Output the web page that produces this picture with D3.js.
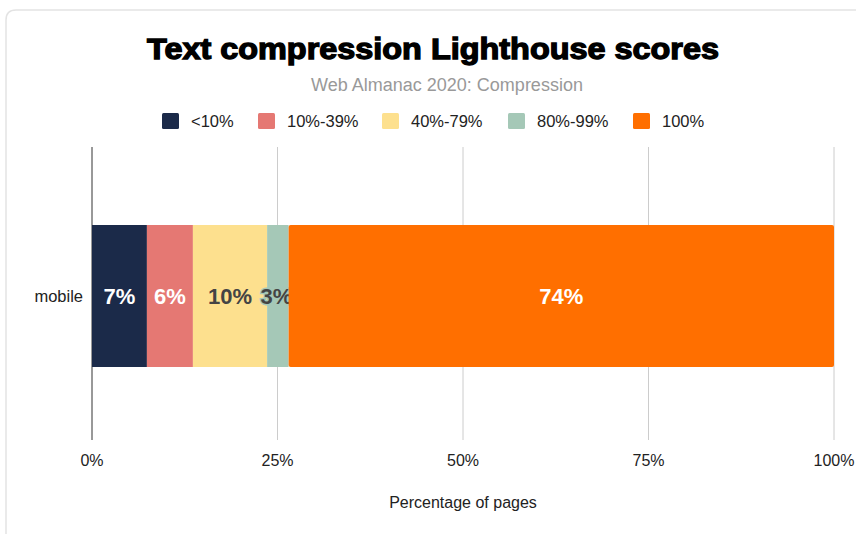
<!DOCTYPE html>
<html><head><meta charset="utf-8">
<script src="https://cdn.jsdelivr.net/npm/d3@7"></script>
<style>body{margin:0;background:#fff;font-family:"Liberation Sans",Arial,sans-serif}</style>
</head><body><svg id="c" width="856" height="534"></svg>
<script>
const categories = ["mobile"];
const seriesNames = ["<10%", "10%-39%", "40%-79%", "80%-99%", "100%"];
const seriesValues = [7.4, 6.2, 10.0, 2.9, 73.5];
const seriesColors = ["#1b2a49", "#e57873", "#fde08e", "#a5c8b7", "#ff6f00"];
const labelColors = ["#fff", "#fff", "#444", "#444", "#fff"];
const tickValues = [0, 25, 50, 75, 100];

const svg = d3.select("#c");
svg.append("path").attr("d","M6,534 V20 Q6,10 16,10 H856").attr("fill","none").attr("stroke","#e3e3e3").attr("stroke-width",1.5);

svg.append("text").attr("x",433).attr("y",59).attr("text-anchor","middle")
  .attr("font-size",29).attr("font-weight","bold").attr("fill","#000")
  .attr("stroke","#000").attr("stroke-width",1.3)
  .attr("textLength",572).attr("lengthAdjust","spacingAndGlyphs")
  .text("Text compression Lighthouse scores");
svg.append("text").attr("x",447).attr("y",91).attr("text-anchor","middle")
  .attr("font-size",18).attr("fill","#999").text("Web Almanac 2020: Compression");

const legendX = [162, 258, 382, 508, 633];
const lg = svg.append("g");
seriesNames.forEach((n,i)=>{
  lg.append("rect").attr("x",legendX[i]).attr("y",113).attr("width",17).attr("height",16).attr("rx",1.5).attr("fill",seriesColors[i]);
  lg.append("text").attr("x",legendX[i]+29).attr("y",127).attr("font-size",16.5).attr("fill","#222").text(n);
});

const x = d3.scaleLinear().domain([0,100]).range([92,834]);
const y = d3.scaleBand().domain(categories).range([225,367]).padding(0);

const grid = svg.append("g");
tickValues.forEach(t=>{
  grid.append("line").attr("x1",x(t)).attr("x2",x(t)).attr("y1",147).attr("y2",440)
    .attr("stroke", t===0 ? "#333" : "#ccc").attr("stroke-width",1);
  grid.append("text").attr("x",x(t)).attr("y",466).attr("text-anchor","middle").attr("font-size",16).attr("fill","#222").text(t+"%");
});

categories.forEach((c,ci)=>{
  let acc = 0;
  seriesValues.forEach((v,i)=>{
    const x0 = x(acc), x1 = x(acc+v);
    svg.append("rect").attr("x",x0).attr("y",y(c)).attr("width",x1-x0).attr("height",y.bandwidth())
      .attr("fill",seriesColors[i]).attr("rx", i===seriesValues.length-1 ? 2 : 0);
    const lbl = Math.round(v)+"%";
    const cx = (x0+x1)/2 - (i===3 ? 1.5 : 0);
    const t = svg.append("text").attr("x",cx).attr("y",y(c)+y.bandwidth()/2+8).attr("text-anchor","middle")
      .attr("font-size",22).attr("font-weight","bold").attr("fill",labelColors[i]).text(lbl);
    if(i===3){ t.attr("stroke",seriesColors[3]).attr("stroke-width",3).attr("paint-order","stroke"); }
    acc += v;
  });
  svg.append("text").attr("x",83).attr("y",y(c)+y.bandwidth()/2+6).attr("text-anchor","end").attr("font-size",16.5).attr("fill","#222").text(c);
});

svg.append("text").attr("x",463).attr("y",508).attr("text-anchor","middle").attr("font-size",16).attr("fill","#222").text("Percentage of pages");
</script></body></html>
